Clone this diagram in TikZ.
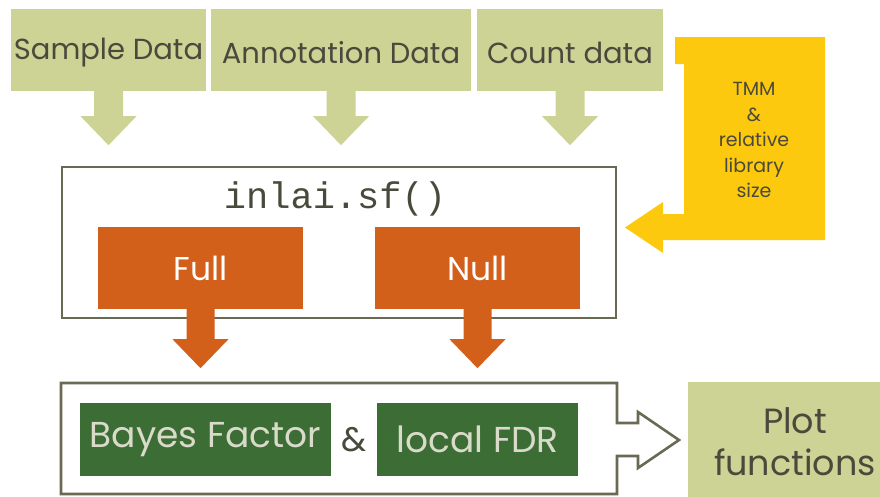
\documentclass[tikz,border=0pt]{standalone}
\usepackage{fontspec}
\setmainfont{Poppins}
\newfontfamily\codefont{Liberation Mono}
\usetikzlibrary{calc}
\definecolor{lgreen}{HTML}{CCD394}
\definecolor{txtgray}{HTML}{4A4A3C}
\definecolor{frame}{HTML}{6A6A54}
\definecolor{orng}{HTML}{D2601A}
\definecolor{dgreen}{HTML}{3B6D35}
\definecolor{ylw}{HTML}{FDC90E}
\definecolor{palet}{HTML}{DADACB}
\tikzset{
  inbox/.style={fill=lgreen, text=txtgray, inner sep=0pt, minimum height=82, font=\fontsize{29}{34}\selectfont},
  modelbox/.style={fill=orng, text=white, inner sep=0pt, minimum width=205, minimum height=82, font=\fontsize{33}{38}\selectfont},
  resbox/.style={fill=dgreen, text=palet, inner sep=0pt, minimum height=73, font=\fontsize{36}{40}\selectfont},
  framed/.style={draw=frame, line width=2.6pt},
}
\newcommand\dnarrow[4]{\fill[#2] ($(#1)+(-#3/2,0)$) -- ++(0,#4) -- ++(-28+#3/2,0) -- ++(28,29) -- ++(28,-29) -- ++(-28+#3/2,0) -- ++(0,-#4) -- cycle;}
\begin{document}
\begin{tikzpicture}[x=1pt,y=-1pt]
\useasboundingbox (0,0) rectangle (880,496);
\clip (0,0) rectangle (880,496);
% input boxes
\node[inbox, minimum width=195] (sample) at (108.5,50) {};
\node[inbox, minimum width=260] (annot) at (341,50) {};
\node[inbox, minimum width=186] (count) at (570,50) {};
\node[text=txtgray, font=\fontsize{29}{34}\selectfont, inner sep=0pt] (samplet) at (108.5,52.5) {Sample Data};
\node[text=txtgray, font=\fontsize{29}{34}\selectfont, inner sep=0pt] (annott) at (341,52.5) {Annotation Data};
\node[text=txtgray, font=\fontsize{29}{34}\selectfont, inner sep=0pt] (countt) at (570,52.5) {Count data};
\dnarrow{sample.south}{lgreen}{29}{25}
\dnarrow{annot.south}{lgreen}{29}{25}
\dnarrow{count.south}{lgreen}{29}{25}
% yellow callout
\fill[ylw] (675,37) -- (825,37) -- (825,240) -- (663,240) -- (663,253) -- (625,227.5) -- (663,202) -- (663,214) -- (684,214) -- (684,64) -- (675,64) -- cycle;
\node[text=txtgray, align=center, font=\fontsize{19}{25.5}\selectfont] (tmm) at (754,140) {TMM\\\&\\relative\\library\\size};
% inlai box
\node[framed, minimum width=554, minimum height=151, inner sep=0pt] (inlai) at (339,242.5) {};
\node[text=txtgray, font=\codefont\fontsize{37}{40}\selectfont, inner sep=0pt] (fn) at (335,199) {inlai.sf()};
\node[modelbox] (full) at (200.5,268) {Full};
\node[modelbox] (null) at (477.5,268) {Null};
\dnarrow{full.south}{orng}{28}{30}
\dnarrow{null.south}{orng}{28}{30}
% result frame with arrow
\draw[framed, line join=miter] (61,383) -- (617,383) -- (617,423) -- (638,423) -- (638,412) -- (679,440) -- (638,468) -- (638,456) -- (617,456) -- (617,494) -- (61,494) -- cycle;
\node[resbox, minimum width=251] (bf) at (205.5,439.5) {Bayes Factor};
\node[resbox, minimum width=201] (fdr) at (477.5,439.5) {local FDR};
\node[text=txtgray, font=\fontsize{34}{38}\selectfont] (amp) at (354.5,440) {\&};
\node[fill=lgreen, text=txtgray, minimum width=214, minimum height=120, inner sep=0pt, align=center, font=\fontsize{35}{42}\selectfont] (plot) at (795,442) {Plot\\functions};
\end{tikzpicture}
\end{document}
